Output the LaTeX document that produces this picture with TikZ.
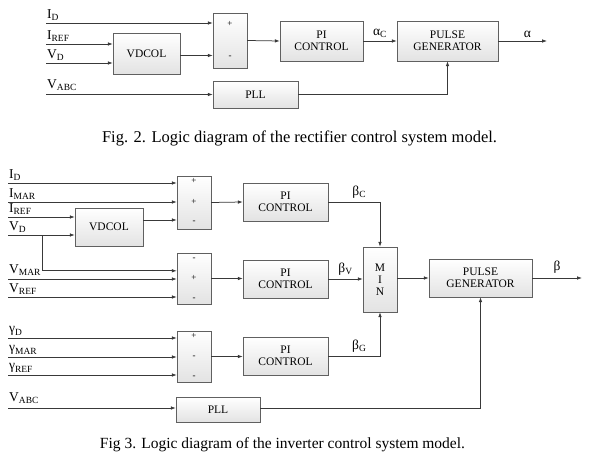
\documentclass[tikz,border=0pt]{standalone}
\usepackage{fontspec}
\setmainfont{Liberation Serif}
\usetikzlibrary{arrows.meta,positioning,calc}

\tikzset{
	blk/.style={draw=gray!75!black, top color=white, bottom color=gray!22, inner sep=0pt, align=center, font=\fontsize{11.5}{12}\selectfont},
	sumblk/.style={blk, minimum width=34pt},
	wire/.style={draw=gray!45!black, line width=0.75pt},
	arr/.style={wire, -{Latex[length=5pt,width=3.6pt]}},
	sig/.style={font=\fontsize{13.5}{14}\selectfont, inner sep=1pt, anchor=south west},
	lbl/.style={font=\fontsize{13.5}{14}\selectfont, inner sep=3pt},
	sgn/.style={font=\fontsize{9}{9}\selectfont, inner sep=0pt},
	captxt/.style={font=\fontsize{16.5}{17}\selectfont, inner sep=0pt},
}

\begin{document}
\begin{tikzpicture}[x=1pt, y=-1pt]
	\useasboundingbox (0,0) rectangle (596,462);

	% rectifier control
	\node[sumblk, minimum height=55pt] (sum1) at (230,40.5) {};
	\node[sgn] (s1a) at (230,24) {+};
	\node[sgn] (s1b) at (230,57) {-};
	\node[blk, minimum width=67pt, minimum height=41pt] (vdcol1) at (146.5,53.5) {VDCOL};
	\node[blk, minimum width=85pt, minimum height=27pt] (pll1) at (255.5,94.5) {PLL};
	\node[blk, minimum width=83pt, minimum height=40pt] (pi1) at (321.5,41) {PI\\CONTROL};
	\node[blk, minimum width=101pt, minimum height=40pt] (pg1) at (447.5,41) {PULSE\\GENERATOR};

	\coordinate (id1) at (46,23);
	\coordinate (iref1) at (46,44);
	\coordinate (vd1) at (46,63);
	\coordinate (vabc1) at (46,94.5);
	\coordinate (alpha) at (547,41);

	\node[sig] at ([yshift=1pt]id1) {I\textsubscript{D}};
	\node[sig] at ([yshift=1pt]iref1) {I\textsubscript{REF}};
	\node[sig] at ([yshift=1pt]vd1) {V\textsubscript{D}};
	\node[sig] at ([yshift=3pt]vabc1) {V\textsubscript{ABC}};

	\draw[arr] (id1) -- (id1 -| sum1.west);
	\draw[arr] (iref1) -- (iref1 -| vdcol1.west);
	\draw[arr] (vd1) -- (vd1 -| vdcol1.west);
	\draw[arr] ([yshift=-2pt]vdcol1.east) -- ([yshift=-2pt]vdcol1.east -| sum1.west);
	\draw[arr] (vabc1) -- (pll1.west);
	\draw[arr] (sum1.east) -- (pi1.west);
	\draw[arr] (pi1.east) -- node[above, lbl] {α\textsubscript{C}} (pg1.west);
	\draw[arr] (pg1.east) -- node[above, pos=.6, lbl] {α} (alpha);
	\draw[arr] (pll1.east) -| (pg1.south);

	\node[captxt] (cap1) at (299.5,138) {Fig. 2. Logic diagram of the rectifier control system model.};

	% inverter control
	\node[sumblk, minimum height=53pt] (sumA) at (194,202.5) {};
	\node[sgn] at (194,181) {+};
	\node[sgn] at (194,202) {+};
	\node[sgn] at (194,222) {-};
	\node[sumblk, minimum height=51pt] (sumB) at (194,278.5) {};
	\node[sgn] at (194,259) {-};
	\node[sgn] at (194,278) {+};
	\node[sgn] at (194,299) {-};
	\node[sumblk, minimum height=51pt] (sumC) at (194,356.5) {};
	\node[sgn] at (194,336) {+};
	\node[sgn] at (194,357) {-};
	\node[sgn] at (194,377) {-};

	\node[blk, minimum width=68pt, minimum height=38pt] (vdcol2) at (109,227) {VDCOL};
	\node[blk, minimum width=85pt, minimum height=38pt] (pi2) at (285.5,202) {PI\\CONTROL};
	\node[blk, minimum width=85pt, minimum height=38pt] (pi3) at (285.5,279) {PI\\CONTROL};
	\node[blk, minimum width=85pt, minimum height=38pt] (pi4) at (285.5,356) {PI\\CONTROL};
	\node[blk, minimum width=34pt, minimum height=65pt] (min) at (380,279.5) {M\\I\\N};
	\node[blk, minimum width=103pt, minimum height=38pt] (pg2) at (480.5,278) {PULSE\\GENERATOR};
	\node[blk, minimum width=84pt, minimum height=25pt] (pll2) at (218,409.5) {PLL};

	\coordinate (id2) at (8,183);
	\coordinate (imar) at (8,202);
	\coordinate (iref2) at (8,217);
	\coordinate (vd2) at (8,235);
	\coordinate (vdtap) at (42,235);
	\coordinate (vmar) at (8,279);
	\coordinate (vref) at (8,297);
	\coordinate (gd) at (8,338);
	\coordinate (gmar) at (8,357);
	\coordinate (gref) at (8,375);
	\coordinate (vabc2) at (8,408);
	\coordinate (beta) at (582,278);

	\node[sig] at ([yshift=1pt]id2) {I\textsubscript{D}};
	\node[sig] at ([yshift=1pt]imar) {I\textsubscript{MAR}};
	\node[sig] at ([yshift=1pt]iref2) {I\textsubscript{REF}};
	\node[sig] at ([yshift=1pt]vd2) {V\textsubscript{D}};
	\node[sig] at ([yshift=2pt]vmar) {V\textsubscript{MAR}};
	\node[sig] at ([yshift=1pt]vref) {V\textsubscript{REF}};
	\node[sig] at ([yshift=1pt]gd) {γ\textsubscript{D}};
	\node[sig] at ([yshift=1pt]gmar) {γ\textsubscript{MAR}};
	\node[sig] at ([yshift=1pt]gref) {γ\textsubscript{REF}};
	\node[sig] at ([yshift=3pt]vabc2) {V\textsubscript{ABC}};

	\draw[arr] (id2) -- (id2 -| sumA.west);
	\draw[arr] (imar) -- (imar -| sumA.west);
	\draw[arr] (iref2) -- (iref2 -| vdcol2.west);
	\draw[arr] (vd2) -- (vd2 -| vdcol2.west);
	\draw[arr] ([yshift=7pt]vdcol2.east) -- ([yshift=7pt]vdcol2.east -| sumA.west);
	\draw[arr] (vdtap) |- ([yshift=-18pt]sumB.north west);
	\draw[arr] (vmar) -- (vmar -| sumB.west);
	\draw[arr] (vref) -- (vref -| sumB.west);
	\draw[arr] (gd) -- (gd -| sumC.west);
	\draw[arr] (gmar) -- (gmar -| sumC.west);
	\draw[arr] (gref) -- (gref -| sumC.west);
	\draw[arr] (vabc2) -- (vabc2 -| pll2.west);

	\draw[arr] (sumA.east) -- (pi2.west);
	\draw[arr] (sumB.east) -- (sumB.east -| pi3.west);
	\draw[arr] (sumC.east) -- (sumC.east -| pi4.west);
	\draw[arr] (pi2.east) -| node[pos=.3, above, lbl] {β\textsubscript{C}} (min.north);
	\draw[arr] (pi3.east) -- node[above, lbl] {β\textsubscript{V}} (pi3.east -| min.west);
	\draw[arr] (pi4.east) -| node[pos=.3, above, lbl] {β\textsubscript{G}} (min.south);
	\draw[arr] (min.east |- pg2.west) -- (pg2.west);
	\draw[arr] (pg2.east) -- node[above, pos=.5, lbl, inner sep=4pt] {β} (beta);
	\draw[arr] (pll2.east |- vabc2) -| (pg2.south);

	\node[captxt, font=\fontsize{15.5}{16}\selectfont] (cap2) at (282.5,445) {Fig 3. Logic diagram of the inverter control system model.};
\end{tikzpicture}
\end{document}
